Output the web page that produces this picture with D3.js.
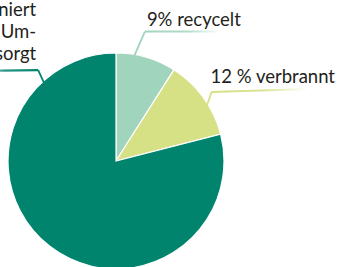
<!DOCTYPE html>
<html>
<head>
<meta charset="utf-8">
<script src="https://cdn.jsdelivr.net/npm/d3@7"></script>
<style>
  html, body { margin: 0; padding: 0; background: #fff; }
  svg { display: block; }
</style>
</head>
<body>
<div id="chart"></div>
<script>
// plastic waste, share by destination
var labels = ['recycelt', 'verbrannt', 'deponiert'];
var values = [9, 12, 79];
var labelLines = [
    ['9% recycelt'],
    ['12 % verbrannt'],
    ['79 % deponiert', 'oder in der Um-', 'welt entsorgt']
];
var colors = ['#a1d4bd', '#d6e084', '#00846e'];

var width = 337, height = 267;
var cx = 116, cy = 161, radius = 108;

var svg = d3.select('#chart')
  .append('svg')
    .attr('width', width)
    .attr('height', height);

var defs = svg.append('defs');

var pie = d3.pie().sort(null).value(function(d) { return d; });
var arc = d3.arc().innerRadius(0).outerRadius(radius);
var arcs = pie(values);

var g = svg.append('g')
    .attr('transform', 'translate(' + cx + ',' + cy + ')');

g.selectAll('path.slice')
    .data(arcs)
  .enter().append('path')
    .attr('class', 'slice')
    .attr('d', arc)
    .attr('fill', function(d, i) { return colors[i]; })
    .attr('stroke', '#fff')
    .attr('stroke-width', 1.2);

// leader lines: where on the slice edge they start, and how they run
var leader = [
    {frac: 0.30, rise: 25, run: 11, len: 76, tilt: 0, side: 1, tx: 2, ty: -6},
    {frac: 0.61, rise: 14, run: 5, len: 97, tilt: -3, side: 1, tx: -1, ty: -9},
    {frac: 0.85, rise: 13, run: -6, len: 60, tilt: 1, side: -1, tx: -2, ty: -10}
];

arcs.forEach(function(d, i) {
    var L = leader[i];
    var a = d.startAngle + (d.endAngle - d.startAngle) * L.frac;
    var p0 = d3.pointRadial(a, radius - 2);
    var x0 = cx + p0[0], y0 = cy + p0[1];
    var x1 = x0 + L.run, y1 = y0 - L.rise;
    var x2 = x1 + L.side * L.len, y2 = y1 + L.tilt;

    var gid = 'fade' + i;
    var grad = defs.append('linearGradient')
        .attr('id', gid)
        .attr('gradientUnits', 'userSpaceOnUse')
        .attr('x1', x1).attr('y1', y1)
        .attr('x2', x2).attr('y2', y2);
    grad.append('stop').attr('offset', '0%').attr('stop-color', colors[i]).attr('stop-opacity', 1);
    grad.append('stop').attr('offset', '55%').attr('stop-color', colors[i]).attr('stop-opacity', 0.85);
    grad.append('stop').attr('offset', '100%').attr('stop-color', colors[i]).attr('stop-opacity', 0);

    svg.append('line')
        .attr('x1', x0).attr('y1', y0)
        .attr('x2', x1).attr('y2', y1)
        .attr('stroke', colors[i])
        .attr('stroke-width', 1.8);
    svg.append('line')
        .attr('x1', x1).attr('y1', y1)
        .attr('x2', x2).attr('y2', y2)
        .attr('stroke', 'url(#' + gid + ')')
        .attr('stroke-width', 2.2);

    var lines = labelLines[i];
    var t = svg.append('text')
        .attr('font-family', 'Lato, "Noto Sans", sans-serif')
        .attr('font-size', 18.5)
        .attr('fill', '#231f20')
        .attr('text-anchor', L.side > 0 ? 'start' : 'end');
    var lh = 22;
    lines.forEach(function(s, k) {
        t.append('tspan')
            .attr('x', x1 + L.tx)
            .attr('y', y1 + L.ty - (lines.length - 1 - k) * lh)
            .text(s);
    });
});
</script>
</body>
</html>
